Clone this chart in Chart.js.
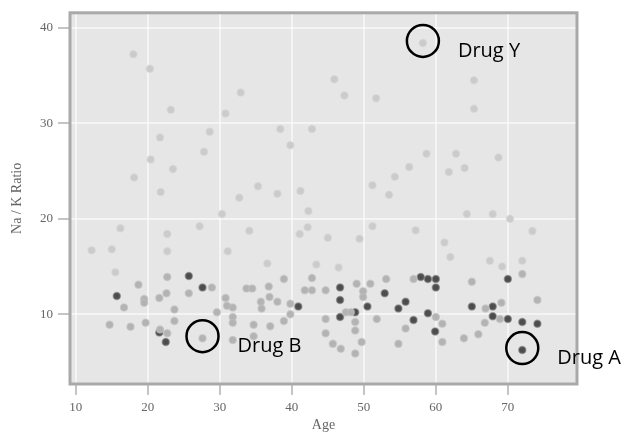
<!DOCTYPE html>
<html>
<head>
<meta charset="utf-8">
<script src="https://cdn.jsdelivr.net/npm/chart.js@4/dist/chart.umd.min.js"></script>
<style>
  body { margin: 0; background: #fff; }
</style>
</head>
<body>
<canvas id="scatter" width="623" height="434"></canvas>
<script>
// Data: age vs Na/K ratio, split by how dark the dot is
const lightAge   = [18.0, 20.3, 32.9, 23.2, 30.8, 28.6, 21.7, 20.4, 27.8, 18.1, 23.5, 21.8, 16.2, 22.7, 12.2, 15.0, 15.5, 22.7, 27.2, 30.3, 31.1, 32.7, 34.1, 35.3, 36.6, 38.4, 38.0, 39.8, 41.2, 42.3, 42.2, 41.1, 42.8, 43.4, 45.9, 47.3, 51.7, 45.0, 46.5, 49.4, 51.2, 51.2, 53.5, 54.3, 56.3, 58.2, 58.7, 57.2, 61.8, 62.8, 64.0, 64.3, 65.3, 65.3, 67.9, 68.7, 70.3, 73.4, 61.2, 62.0, 67.5, 69.2, 72.0];
const lightRatio = [37.2, 35.7, 33.2, 31.4, 31.0, 29.1, 28.5, 26.2, 27.0, 24.3, 25.2, 22.8, 19.0, 18.4, 16.7, 16.8, 14.4, 16.6, 19.2, 20.5, 16.6, 22.2, 18.75, 23.4, 15.3, 29.4, 22.6, 27.7, 22.9, 20.8, 19.1, 18.4, 29.4, 15.2, 34.6, 32.9, 32.6, 18.0, 14.9, 17.9, 23.5, 19.2, 22.5, 24.4, 25.4, 38.4, 26.8, 18.8, 24.9, 26.8, 25.3, 20.5, 34.5, 31.5, 20.5, 26.4, 20.0, 18.7, 17.5, 16.0, 15.6, 15.0, 15.6];

const midAge   = [14.7, 16.7, 17.6, 18.7, 19.5, 19.5, 19.7, 21.6, 22.6, 22.7, 23.7, 23.7, 21.7, 22.7, 25.7, 28.9, 27.6, 29.6, 30.8, 31.0, 31.8, 31.8, 31.8, 31.8, 33.7, 34.5, 34.7, 34.7, 35.7, 35.8, 36.8, 36.9, 37.0, 38.0, 38.9, 38.9, 39.8, 39.8, 41.8, 42.8, 42.8, 44.7, 44.7, 44.7, 45.7, 46.8, 47.5, 48.2, 48.8, 48.8, 48.8, 49.0, 49.9, 49.9, 49.7, 50.9, 51.8, 53.1, 54.8, 55.8, 56.9, 60.0, 60.9, 60.9, 63.9, 65.0, 65.9, 66.8, 66.9, 69.1, 68.9, 72.0, 74.1];
const midRatio = [8.9, 10.7, 8.7, 13.1, 11.6, 11.2, 9.1, 11.7, 12.2, 13.9, 10.5, 9.3, 8.4, 8.0, 12.2, 12.8, 7.5, 10.2, 11.7, 10.9, 10.7, 9.7, 9.1, 7.3, 12.7, 12.7, 8.9, 7.7, 11.3, 10.6, 12.9, 11.8, 8.75, 11.3, 13.7, 9.3, 10.0, 11.1, 12.5, 12.5, 13.8, 12.5, 9.5, 8.0, 6.9, 6.4, 10.2, 10.2, 9.2, 8.3, 5.9, 13.2, 12.4, 11.8, 7.1, 13.2, 9.5, 13.7, 6.9, 8.5, 13.7, 9.7, 9.0, 7.1, 7.5, 13.4, 7.9, 9.1, 10.6, 11.2, 9.5, 14.2, 11.5];

const darkAge   = [15.7, 21.6, 22.5, 25.7, 27.6, 40.9, 46.7, 46.7, 46.7, 48.8, 50.5, 52.9, 54.8, 55.8, 56.9, 57.9, 58.9, 58.9, 60.0, 60.0, 59.9, 65.0, 67.9, 67.9, 70.0, 70.0, 72.0, 72.0, 74.1];
const darkRatio = [11.9, 8.1, 7.1, 14.0, 12.8, 10.8, 12.8, 11.5, 9.7, 10.2, 10.8, 12.2, 10.6, 11.3, 9.4, 13.9, 13.7, 10.1, 13.7, 12.8, 8.2, 10.8, 10.8, 9.8, 9.5, 13.7, 9.2, 6.25, 9.0];

// circled examples
const noteLabels = ['Drug Y', 'Drug B', 'Drug A'];
const noteAge    = [58.2, 27.6, 72.0];
const noteRatio  = [38.4, 7.5, 6.25];

const xTicks = [10, 20, 30, 40, 50, 60, 70];
const yTicks = [10, 20, 30, 40];

const toPoints = (xs, ys) => xs.map((x, i) => ({ x: x, y: ys[i] }));

const tickFont = { family: '"Liberation Serif", "DejaVu Serif", serif', size: 13 };
const titleFont = { family: '"Liberation Serif", "DejaVu Serif", serif', size: 14 };

// grey panel behind the points, frame and circled notes on top
const panelPlugin = {
    id: 'panel',
    beforeDraw(chart) {
        const { ctx, chartArea: a } = chart;
        ctx.save();
        ctx.fillStyle = '#e6e6e6';
        ctx.fillRect(a.left, a.top, a.right - a.left, a.bottom - a.top);
        ctx.restore();
    },
    afterDraw(chart) {
        const { ctx, chartArea: a, scales } = chart;
        ctx.save();
        ctx.strokeStyle = '#a9a9a9';
        ctx.lineWidth = 3;
        ctx.strokeRect(a.left, a.top, a.right - a.left, a.bottom - a.top);

        ctx.strokeStyle = '#000';
        ctx.lineWidth = 2.5;
        ctx.fillStyle = '#000';
        ctx.font = '20px "Open Sans", "Liberation Sans", sans-serif';
        ctx.textBaseline = 'alphabetic';
        noteLabels.forEach((label, i) => {
            const px = scales.x.getPixelForValue(noteAge[i]);
            const py = scales.y.getPixelForValue(noteRatio[i]);
            ctx.beginPath();
            ctx.arc(px, py - 2, 16, 0, Math.PI * 2);
            ctx.stroke();
            ctx.fillText(label, px + 35, py + 14);
        });
        ctx.restore();
    }
};

new Chart(document.getElementById('scatter'), {
    type: 'scatter',
    data: {
        datasets: [
            {
                label: 'light',
                data: toPoints(lightAge, lightRatio),
                backgroundColor: '#cbcbcb',
                borderColor: 'rgba(210,210,210,0.6)',
                borderWidth: 1.5,
                pointRadius: 3.5
            },
            {
                label: 'mid',
                data: toPoints(midAge, midRatio),
                backgroundColor: '#b3b3b3',
                borderColor: 'rgba(190,190,190,0.6)',
                borderWidth: 1.5,
                pointRadius: 3.5
            },
            {
                label: 'dark',
                data: toPoints(darkAge, darkRatio),
                backgroundColor: '#4d4d4d',
                borderColor: 'rgba(120,120,120,0.6)',
                borderWidth: 1.5,
                pointRadius: 3.5
            }
        ]
    },
    options: {
        responsive: false,
        animation: false,
        devicePixelRatio: 1,
        layout: { padding: { left: 0, right: 46, top: 11, bottom: 0 } },
        plugins: {
            legend: { display: false },
            tooltip: { enabled: false }
        },
        scales: {
            x: {
                type: 'linear',
                min: 9.2,
                max: 79.6,
                afterBuildTicks: scale => { scale.ticks = xTicks.map(v => ({ value: v })); },
                afterFit: scale => { scale.height = 50; },
                border: { display: false },
                grid: {
                    color: 'rgba(255,255,255,0.55)',
                    lineWidth: 2,
                    tickColor: '#8a8a8a',
                    tickLength: 11,
                    tickWidth: 1
                },
                ticks: { color: '#666', font: tickFont, padding: 5, maxRotation: 0 },
                title: {
                    display: true,
                    text: 'Age',
                    color: '#666',
                    font: titleFont,
                    padding: { top: 0, bottom: 0 }
                }
            },
            y: {
                type: 'linear',
                min: 2.7,
                max: 41.55,
                afterBuildTicks: scale => { scale.ticks = yTicks.map(v => ({ value: v })); },
                afterFit: scale => { scale.width = 70; },
                border: { display: false },
                grid: {
                    color: 'rgba(255,255,255,0.55)',
                    lineWidth: 2,
                    tickColor: '#8a8a8a',
                    tickLength: 12,
                    tickWidth: 1
                },
                ticks: { color: '#666', font: tickFont, padding: 5 },
                title: {
                    display: true,
                    text: 'Na / K Ratio',
                    color: '#666',
                    font: titleFont,
                    padding: { top: 9, bottom: 0 }
                }
            }
        }
    },
    plugins: [panelPlugin]
});
</script>
</body>
</html>
